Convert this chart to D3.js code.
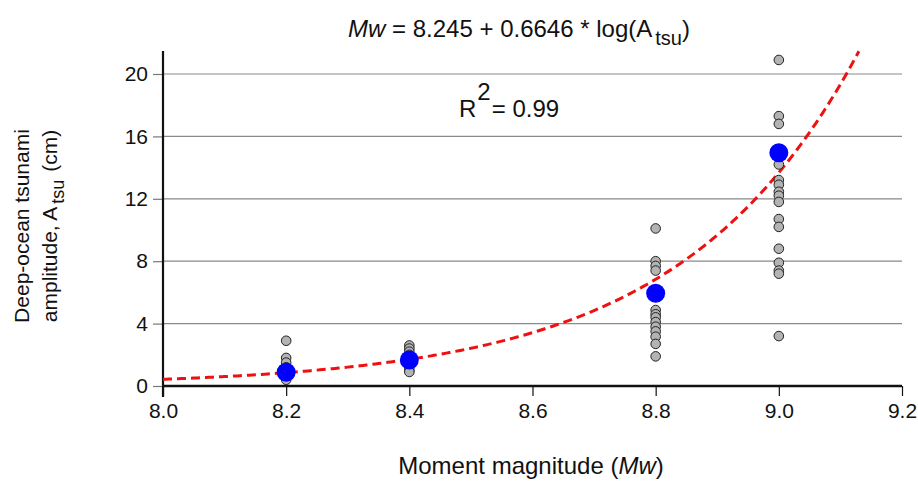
<!DOCTYPE html>
<html><head><meta charset="utf-8">
<script src="https://cdn.jsdelivr.net/npm/d3@7"></script>
<style>body{margin:0;background:#fff;} text{font-family:"Liberation Sans",Arial,sans-serif;fill:#111;}</style>
</head><body><svg id="c" width="918" height="485"></svg>
<script>
// Data
const magnitudes = [8.2, 8.4, 8.8, 9.0];
const obs82 = [2.9, 1.8, 1.5, 1.2, 0.9, 0.6, 0.4];
const obs84 = [2.6, 2.4, 2.2, 2.0, 1.5, 1.2, 1.0, 0.9];
const obs88 = [10.1, 8.0, 7.7, 7.4, 4.87, 4.6, 4.4, 4.1, 3.8, 3.5, 3.16, 2.7, 1.9];
const obs90 = [20.9, 17.3, 16.8, 14.2, 13.2, 12.9, 12.45, 12.2, 11.8, 10.7, 10.2, 8.8, 7.9, 7.4, 7.2, 3.2];
const means = [0.88, 1.67, 5.95, 14.95];
const xTicks = [8.0, 8.2, 8.4, 8.6, 8.8, 9.0, 9.2];
const yTicks = [0, 4, 8, 12, 16, 20];
// fit: Mw = a + b*log10(A)
const fitA = 8.245, fitB = 0.6646;
const fitRange = [8.0, 9.13];

const svg = d3.select("#c");
const x = d3.scaleLinear().domain([8.0, 9.2]).range([163, 902]);
const y = d3.scaleLinear().domain([0, 20]).range([386, 74]);

// gridlines
svg.append("g").selectAll("line").data(yTicks.filter(d => d > 0)).join("line")
  .attr("x1", x(8.0)).attr("x2", x(9.2)).attr("y1", d => y(d)).attr("y2", d => y(d))
  .attr("stroke", "#8a8a8a").attr("stroke-width", 1.2);

// y axis
const yAxis = svg.append("g").attr("transform", `translate(${x(8.0)},0)`)
  .call(d3.axisLeft(y).tickValues(yTicks).tickSize(10).tickPadding(5).tickFormat(d3.format("d")));
yAxis.select(".domain").remove();
yAxis.selectAll(".tick line").attr("stroke", "#777").attr("stroke-width", 1.2);
yAxis.selectAll("text").style("font-size", "21px").attr("fill", "#111");
svg.append("line").attr("x1", x(8.0)).attr("x2", x(8.0)).attr("y1", 51).attr("y2", 397)
  .attr("stroke", "#111").attr("stroke-width", 2.2);

// x axis
const xAxis = svg.append("g").attr("transform", `translate(0,${y(0)})`)
  .call(d3.axisBottom(x).tickValues(xTicks).tickSize(10).tickPadding(7).tickFormat(d3.format(".1f")));
xAxis.select(".domain").remove();
xAxis.selectAll(".tick line").attr("stroke", "#111").attr("stroke-width", 1.2);
xAxis.selectAll("text").style("font-size", "21px").attr("fill", "#111");
svg.append("line").attr("x1", x(8.0)).attr("x2", x(9.2)).attr("y1", y(0)).attr("y2", y(0))
  .attr("stroke", "#111").attr("stroke-width", 2.6);

// fit curve
const fitPts = d3.range(fitRange[0], fitRange[1] + 1e-9, 0.005).map(m => [m, Math.pow(10, (m - fitA) / fitB)]);
svg.append("path").datum(fitPts)
  .attr("d", d3.line().x(d => x(d[0])).y(d => y(d[1])))
  .attr("fill", "none").attr("stroke", "#ee1111").attr("stroke-width", 3).attr("stroke-dasharray", "9,5");

// observations
const obs = [obs82, obs84, obs88, obs90];
obs.forEach((arr, i) => {
  svg.append("g").selectAll("circle").data(arr).join("circle")
    .attr("cx", x(magnitudes[i])).attr("cy", d => y(d)).attr("r", 4.8)
    .attr("fill", "#b3b3b3").attr("stroke", "#222").attr("stroke-width", 1);
});
// means
svg.append("g").selectAll("circle").data(means).join("circle")
  .attr("cx", (d, i) => x(magnitudes[i])).attr("cy", d => y(d)).attr("r", 9.5)
  .attr("fill", "#0000ff");

// title
const t = svg.append("text").attr("x", 519).attr("y", 37).attr("text-anchor", "middle").style("font-size", "24px");
t.append("tspan").attr("font-style", "italic").text("Mw");
t.append("tspan").text(" = 8.245 + 0.6646 * log(A");
t.append("tspan").attr("dy", 8).attr("dx", 3).style("font-size", "20px").text("tsu");
t.append("tspan").attr("dy", -8).text(")");

// R2
const r = svg.append("text").attr("x", 459).attr("y", 117).style("font-size", "24px");
r.append("tspan").text("R");
r.append("tspan").attr("dy", -17).attr("dx", 1).text("2");
r.append("tspan").attr("dy", 17).attr("dx", 1).text("= 0.99");

// axis labels
svg.append("text").attr("x", 531).attr("y", 474).attr("text-anchor", "middle").style("font-size", "24px")
  .call(s => { s.append("tspan").text("Moment magnitude ("); s.append("tspan").attr("font-style", "italic").text("Mw"); s.append("tspan").text(")"); });

const yl = svg.append("g").attr("transform", "translate(0,226) rotate(-90)");
yl.append("text").attr("x", 0).attr("y", 29).attr("text-anchor", "middle").style("font-size", "21px").text("Deep-ocean tsunami");
const l2 = yl.append("text").attr("x", 0).attr("y", 57).attr("text-anchor", "middle").style("font-size", "21px");
l2.append("tspan").text("amplitude, A");
l2.append("tspan").attr("dy", 7).attr("dx", 3).style("font-size", "18px").text("tsu");
l2.append("tspan").attr("dy", -7).attr("dx", 2).text(" (cm)");
</script></body></html>
